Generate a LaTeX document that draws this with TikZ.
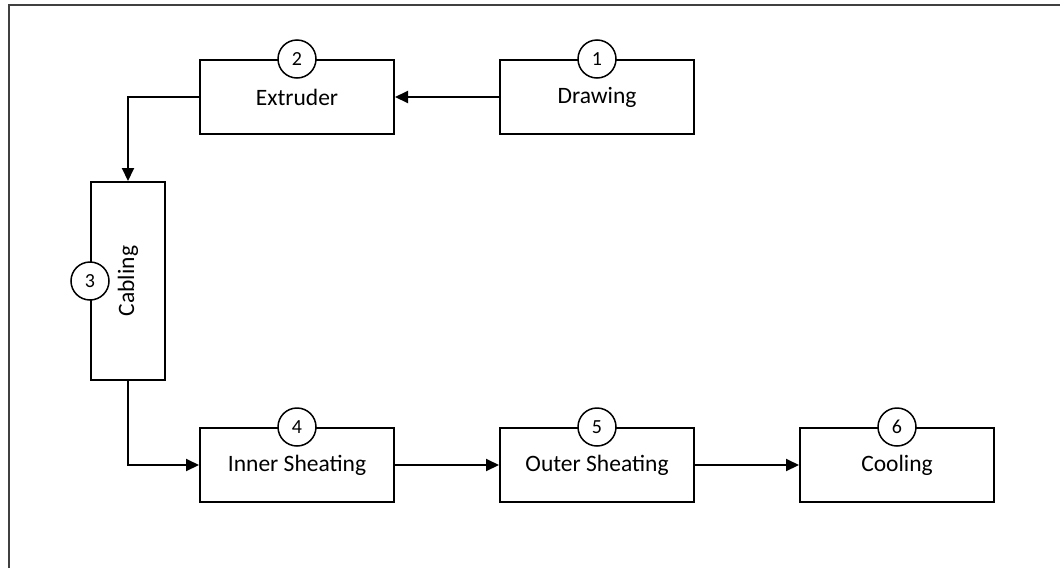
\documentclass[tikz,border=0pt]{standalone}
\usepackage{fontspec}
\setmainfont{Carlito}
\usetikzlibrary{arrows.meta}
\begin{document}
\begin{tikzpicture}[x=1pt,y=-1pt,
  stepbox/.style={draw=black,line width=2pt,fill=white,minimum width=194pt,minimum height=74pt,inner sep=0pt,font=\fontsize{23.5}{28}\selectfont},
  vbox/.style={draw=black,line width=2pt,fill=white,minimum width=74pt,minimum height=198pt,inner sep=0pt},
  numc/.style={circle,draw=black,line width=1.5pt,fill=white,minimum size=38pt,inner sep=0pt,font=\fontsize{20}{24}\selectfont},
  conn/.style={line width=2pt,-{Triangle[length=13pt,width=12pt]}}]
\useasboundingbox (0,0) rectangle (1060,568);
\fill[white] (0,0) rectangle (1060,568);
\draw[line width=2pt,black!75] (9,568) -- (9,5) -- (1060,5);
\node[stepbox] (drawing) at (597,97) {Drawing};
\node[stepbox] (extruder) at (297,97) {Extruder};
\node[vbox] (cabling) at (128,281) {};
\node[rotate=90,font=\fontsize{23.5}{28}\selectfont] (cablingtext) at (cabling.center) {Cabling};
\node[stepbox] (inner) at (297,465) {Inner Sheating};
\node[stepbox] (outer) at (597,465) {Outer Sheating};
\node[stepbox] (cooling) at (897,465) {Cooling};
\node[numc] (n1) at (drawing.north) {1};
\node[numc] (n2) at (extruder.north) {2};
\node[numc] (n3) at (cabling.west) {3};
\node[numc] (n4) at (inner.north) {4};
\node[numc] (n5) at (outer.north) {5};
\node[numc] (n6) at (cooling.north) {6};
\draw[conn] (drawing.west) -- (extruder.east);
\draw[conn] (extruder.west) -| (cabling.north);
\draw[conn] (cabling.south) |- (inner.west);
\draw[conn] (inner.east) -- (outer.west);
\draw[conn] (outer.east) -- (cooling.west);
\end{tikzpicture}
\end{document}
